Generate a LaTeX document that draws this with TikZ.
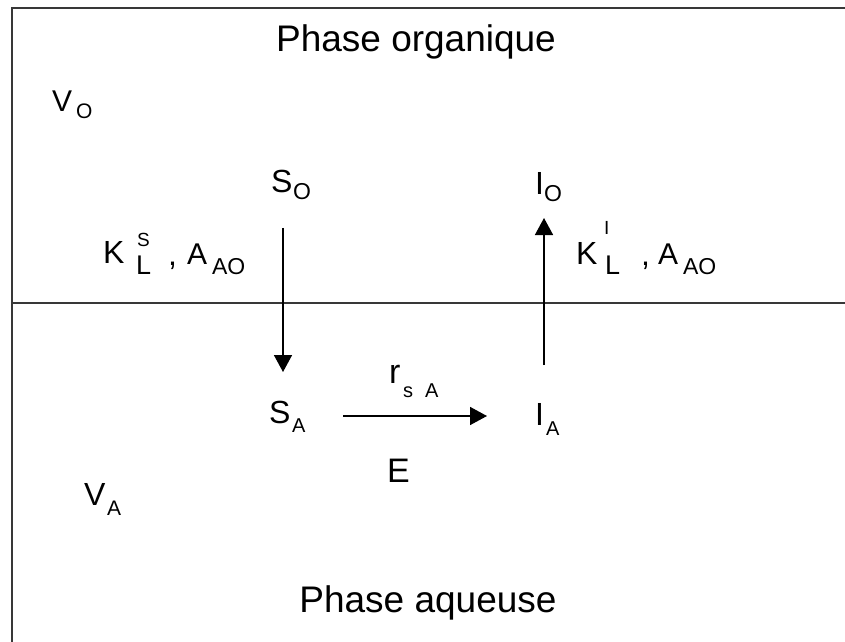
\documentclass[tikz,border=0pt]{standalone}
\usepackage{fontspec}
\setmainfont{Liberation Sans}
\usetikzlibrary{arrows.meta}
\tikzset{
  lab/.style={inner sep=0pt, outer sep=0pt, anchor=base west, font=\fontsize{#1bp}{#1bp}\selectfont},
  title/.style={inner sep=0pt, outer sep=0pt, anchor=base, font=\fontsize{37bp}{37bp}\selectfont},
  frame/.style={line width=2bp, draw=black!78},
  flow/.style={line width=1.6bp, -{Triangle[width=18bp,length=17bp]}}
}
\begin{document}
\begin{tikzpicture}[x=1bp,y=-1bp]
\useasboundingbox (0,0) rectangle (845,642);
\fill[white] (0,0) rectangle (845,642);
% frame and interface
\draw[frame] (12,642) -- (12,8) -- (845,8);
\draw[frame] (12,303) -- (845,303);
% titles
\node[title] (torg) at (416,52) {Phase organique};
\node[title] (taq) at (428,612) {Phase aqueuse};
% volumes
\node[lab=30] (vo) at (52,112) {V};
\node[lab=21] (vosub) at (76,119) {O};
\node[lab=32] (va) at (84,505) {V};
\node[lab=21] (vasub) at (107,515) {A};
% species
\node[lab=32] (so) at (271,193) {S};
\node[lab=23] (sosub) at (293,200) {O};
\node[lab=32] (io) at (535,195) {I};
\node[lab=23] (iosub) at (544,202) {O};
\node[lab=32] (sa) at (269,423) {S};
\node[lab=20] (sasub) at (292,432) {A};
\node[lab=32] (ia) at (535,425) {I};
\node[lab=20] (iasub) at (546,435) {A};
% transfer coefficients
\node[lab=32] (k1) at (103,263) {K};
\node[lab=19] (k1sup) at (137,247) {S};
\node[lab=27] (k1sub) at (136,274) {L};
\node[lab=32] (c1) at (168,265) {,};
\node[lab=30] (a1) at (187,264) {A};
\node[lab=23] (a1sub) at (212,274) {AO};
\node[lab=32] (k2) at (576,264) {K};
\node[lab=19] (k2sup) at (604,235) {I};
\node[lab=27] (k2sub) at (605,274) {L};
\node[lab=32] (c2) at (641,265) {,};
\node[lab=30] (a2) at (658,264) {A};
\node[lab=23] (a2sub) at (683,274) {AO};
% reaction
\node[lab=34] (r) at (389,383) {r};
\node[lab=20] (rs) at (403,397) {s};
\node[lab=20] (ra) at (425,397) {A};
\node[lab=34] (e) at (387,482) {E};
% arrows
\coordinate (d1) at (283,228);
\coordinate (d2) at (283,372);
\coordinate (u1) at (544,365);
\coordinate (u2) at (544,218);
\coordinate (h1) at (343,416);
\coordinate (h2) at (487,416);
\draw[flow] (d1) -- (d2);
\draw[flow] (u1) -- (u2);
\draw[flow] (h1) -- (h2);
\end{tikzpicture}
\end{document}
